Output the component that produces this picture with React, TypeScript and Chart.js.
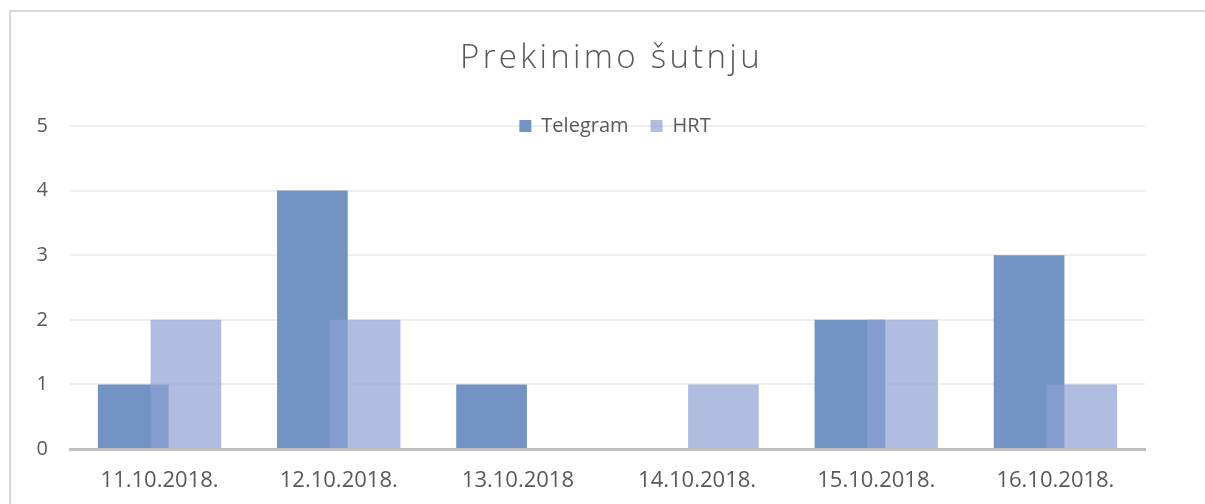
import React, { useEffect, useRef } from 'react';
import { Chart, registerables } from 'chart.js';

Chart.register(...registerables);

const chartTitle = 'Prekinimo šutnju';
const categories = ['11.10.2018.', '12.10.2018.', '13.10.2018', '14.10.2018.', '15.10.2018.', '16.10.2018.'];
const seriesNames = ['Telegram', 'HRT'];
const telegramValues = [1, 4, 1, 0, 2, 3];
const hrtValues = [2, 2, 0, 1, 2, 1];
const yTicks = [0, 1, 2, 3, 4, 5];

const FONT = "'Open Sans', 'Noto Sans', sans-serif";
const TEXT = '#595959';

export default function App() {
  const ref = useRef<HTMLCanvasElement>(null);

  useEffect(() => {
    const canvas = ref.current;
    if (!canvas) return;

    const excelPlugin: any = {
      id: 'excelLayout',
      beforeLayout(chart: any) {
        const lg = chart.legend;
        if (lg && !lg.__patched) {
          const origFit = lg.fit.bind(lg);
          lg.fit = function () {
            origFit();
            this.height = this.options.labels.padding + 10;
          };
          lg.__patched = true;
        }
      },
      beforeDraw(chart: any) {
        const tb = chart.titleBlock;
        if (tb) {
          tb.left = 78;
          tb.right = 1145;
          if (!tb.__patched) {
            const origDraw = tb.draw.bind(tb);
            tb.draw = function (...a: any[]) {
              const ctx = chart.ctx;
              ctx.save();
              ctx.letterSpacing = '3.3px';
              origDraw(...a);
              ctx.restore();
            };
            tb.__patched = true;
          }
        }
        const lg = chart.legend;
        if (lg) {
          lg.left = 85;
          lg.right = 1145;
          lg.bottom = lg.top + 60;
          lg.height = 60;
          lg.width = lg.right - lg.left;
        }
      },
      beforeDatasetDraw(_chart: any, args: any) {
        if (args.index === 1) return false;
      },
      afterDatasetsDraw(chart: any) {
        chart.getDatasetMeta(1).controller.draw();
      },
    };

    const chart = new Chart(canvas, {
      type: 'bar',
      data: {
        labels: categories,
        datasets: [
          {
            label: seriesNames[0],
            data: telegramValues,
            backgroundColor: 'rgb(115,147,196)',
            borderWidth: 0,
            categoryPercentage: 0.588,
            barPercentage: 1.342,
          },
          {
            label: seriesNames[1],
            data: hrtValues,
            backgroundColor: 'rgba(141,161,211,0.7)',
            borderWidth: 0,
            categoryPercentage: 0.588,
            barPercentage: 1.342,
          },
        ],
      },
      options: {
        responsive: false,
        animation: false,
        devicePixelRatio: 1,
        layout: { padding: { left: 0, right: 60, top: 0, bottom: 0 } },
        plugins: {
          title: {
            display: true,
            text: chartTitle,
            color: TEXT,
            font: { family: FONT, size: 33, weight: '300', lineHeight: 1.2 },
            padding: { top: 39, bottom: 15.4 },
          },
          legend: {
            display: true,
            position: 'top',
            labels: {
              boxWidth: 12,
              boxHeight: 12,
              padding: 22,
              color: TEXT,
              font: { family: FONT, size: 20 },
            },
          },
          tooltip: { enabled: false },
        },
        scales: {
          x: {
            grid: { display: false, drawTicks: false },
            border: { display: true, color: '#bfbfbf', width: 3 },
            ticks: {
              color: TEXT,
              font: { family: FONT, size: 22 },
              padding: 19,
              maxRotation: 0,
              autoSkip: false,
            },
            afterFit(scale: any) {
              scale.height = 55;
            },
          },
          y: {
            min: 0,
            max: 5,
            grid: { color: '#eeeeee', lineWidth: 2, drawTicks: false },
            border: { display: false },
            ticks: {
              color: TEXT,
              font: { family: FONT, size: 20 },
              padding: 22,
              stepSize: 1,
            },
            afterBuildTicks(scale: any) {
              scale.ticks = yTicks.map((v) => ({ value: v }));
            },
            afterFit(scale: any) {
              scale.width = 70;
            },
          },
        },
      } as any,
      plugins: [excelPlugin],
    });

    return () => chart.destroy();
  }, []);

  return (
    <div
      style={{
        position: 'fixed',
        left: 0,
        top: 0,
        width: 1205,
        height: 504,
        overflow: 'hidden',
        background: '#ffffff',
      }}
    >
      <div
        style={{
          position: 'absolute',
          left: 9,
          top: 10,
          width: 1400,
          height: 800,
          borderTop: '2px solid #d9d9d9',
          borderLeft: '2px solid #d9d9d9',
        }}
      />
      <canvas
        ref={ref}
        width={1205}
        height={504}
        style={{ position: 'absolute', left: 0, top: 0, width: 1205, height: 504 }}
      />
    </div>
  );
}
